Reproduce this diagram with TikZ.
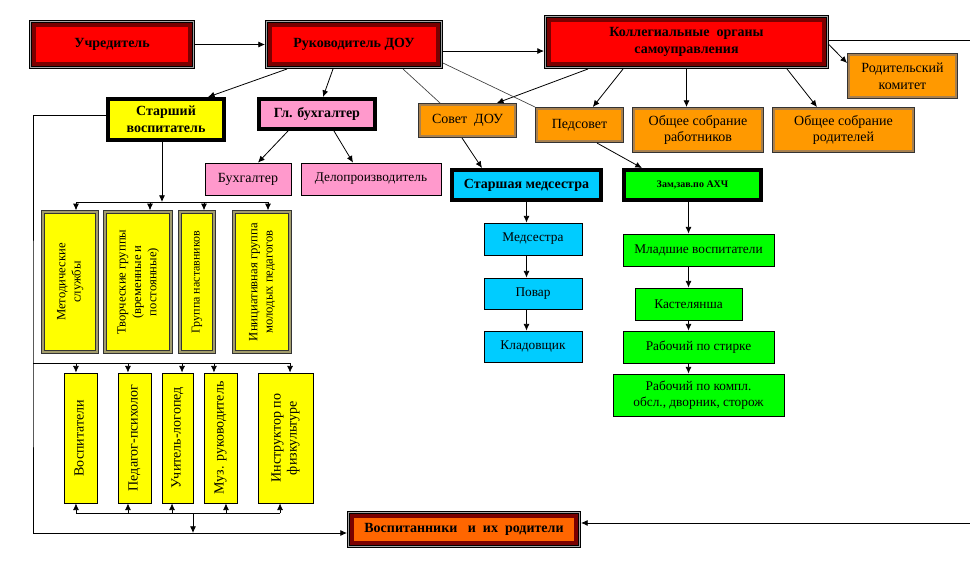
\documentclass[tikz,border=0pt]{standalone}
\usepackage{fontspec}
\setmainfont{Liberation Serif}
\usepackage{graphicx}
\usepackage{tikz}
\usetikzlibrary{arrows.meta}
\usetikzlibrary{positioning}

\definecolor{boxred}{HTML}{FF0000}
\definecolor{bandred}{HTML}{7A0000}
\definecolor{boxorange}{HTML}{FF9900}
\definecolor{bandbrown}{HTML}{A8804E}
\definecolor{boxyellow}{HTML}{FFFF00}
\definecolor{bandolive}{HTML}{A29C6C}
\definecolor{boxpink}{HTML}{FF99CC}
\definecolor{boxblue}{HTML}{00CCFF}
\definecolor{boxgreen}{HTML}{00FF00}
\definecolor{boxdeep}{HTML}{FF6600}

\newcommand{\vtext}[1]{\rotatebox{90}{\begin{tabular}{@{}c@{}}#1\end{tabular}}}

\tikzset{
  base/.style={rectangle, inner sep=2pt, align=center, font=\fontsize{10}{12}\selectfont},
  redbox/.style={base, draw=black, line width=0.5pt, double=bandred, double distance=2.5pt,
    outer sep=3.75pt, font=\bfseries\fontsize{10.5}{12.5}\selectfont},
  outframe/.style={draw=black, line width=0.4pt, double=black!35, double distance=1.2pt},
  orangebox/.style={base, fill=boxorange, draw=black!80, line width=0.5pt, double=bandbrown,
    double distance=1.5pt, outer sep=1.25pt, font=\fontsize{10.5}{12.5}\selectfont},
  thickbox/.style={base, draw=black, line width=3pt, outer sep=1.5pt,
    font=\bfseries\fontsize{10.5}{12.5}\selectfont},
  plainbox/.style={base, draw=black, line width=0.6pt},
  vbox/.style={rectangle, inner sep=1pt, fill=boxyellow, draw=black!80, line width=0.5pt,
    double=bandolive, double distance=1.5pt, outer sep=1.25pt, minimum height=105pt,
    font=\fontsize{9.5}{11.5}\selectfont},
  lowbox/.style={rectangle, inner sep=1pt, fill=boxyellow, draw=black, line width=0.6pt,
    minimum height=97.5pt, font=\fontsize{10.5}{12}\selectfont},
  arr/.style={-{Latex[length=5pt,width=4.5pt]}, line width=0.6pt},
  conn/.style={line width=0.6pt},
  thin/.style={line width=0.5pt, black!75}
}

\begin{document}
\begin{tikzpicture}[x=0.75pt,y=-0.75pt]
\useasboundingbox (0,0) rectangle (970,575);

% top rank
\node[redbox, fill=boxred, minimum width=117pt, minimum height=29.25pt] (uchr) at (112,44.5) {Учредитель};
\node[redbox, fill=boxred, minimum width=126pt, minimum height=29.25pt] (ruk) at (354,44.5) {Руководитель ДОУ};
\node[redbox, fill=boxred, minimum width=206.25pt, minimum height=33pt] (koll) at (686.5,42) {Коллегиальные\ \ органы\\самоуправления};
\node[redbox, fill=boxdeep, minimum width=168pt, minimum height=20.25pt] (vosp) at (464,529.5) {Воспитанники\ \ \ и\ \ их\ \ родители};
\foreach \n in {uchr,ruk,koll,vosp}
  \draw[outframe] ([shift={(1pt,-1pt)}]\n.north west) rectangle ([shift={(-1pt,1pt)}]\n.south east);

% collegial bodies
\node[orangebox, minimum width=80.75pt, minimum height=32pt] (rodkom) at (902.5,76) {Родительский\\комитет};
\node[orangebox, minimum width=71.75pt, minimum height=23.75pt] (sovet) at (467.5,120.5) {Совет\ \ ДОУ};
\node[orangebox, minimum width=64.25pt, minimum height=24.5pt] (pedsovet) at (579.5,125) {Педсовет};
\node[orangebox, minimum width=96.5pt, minimum height=32pt] (obrab) at (698,130) {Общее собрание\\работников};
\node[orangebox, minimum width=104.75pt, minimum height=32pt] (obrod) at (843.5,130) {Общее собрание\\родителей};

% heads
\node[thickbox, fill=boxyellow, minimum width=87pt, minimum height=30.75pt] (stvosp) at (166,119.5) {Старший\\воспитатель};
\node[thickbox, fill=boxpink, minimum width=87pt, minimum height=22.5pt] (glbuh) at (317,114) {Гл. бухгалтер};
\node[thickbox, fill=boxblue, minimum width=111.75pt, minimum height=22.5pt] (stmed) at (526.5,185) {Старшая\ медсестра};
\node[thickbox, fill=boxgreen, minimum width=102.75pt, minimum height=22.5pt, font=\bfseries\fontsize{7.5}{9}\selectfont] (zamzav) at (692.5,185) {Зам,зав.по АХЧ};

\node[plainbox, fill=boxpink, minimum width=64.5pt, minimum height=24pt, font=\fontsize{10.5}{12}\selectfont] (buh) at (248,179) {Бухгалтер};
\node[plainbox, fill=boxpink, minimum width=105pt, minimum height=24pt] (delo) at (371,179) {Делопроизводитель};

\node[plainbox, fill=boxblue, minimum width=73.5pt, minimum height=24pt] (medsestra) at (533,239) {Медсестра};
\node[plainbox, fill=boxblue, minimum width=73.5pt, minimum height=23.25pt] (povar) at (533,293.5) {Повар};
\node[plainbox, fill=boxblue, minimum width=73.5pt, minimum height=23.25pt] (klad) at (533,346.5) {Кладовщик};

\node[plainbox, fill=boxgreen, minimum width=113.25pt, minimum height=24pt] (mladsh) at (698.5,250) {Младшие воспитатели};
\node[plainbox, fill=boxgreen, minimum width=80.25pt, minimum height=24pt] (kastel) at (688.5,304) {Кастелянша};
\node[plainbox, fill=boxgreen, minimum width=113.25pt, minimum height=24pt] (stirka) at (698.5,347) {Рабочий по стирке};
\node[plainbox, fill=boxgreen, minimum width=128.25pt, minimum height=31.5pt] (kompl) at (698.5,395) {Рабочий по компл.\\обсл., дворник, сторож};

% methodical groups
\node[vbox, minimum width=40.5pt] (metod) at (70,282) {\vtext{Методические\\службы}};
\node[vbox, minimum width=49.5pt] (tvorch) at (138,282) {\vtext{Творческие группы\\(временные и\\постоянные)}};
\node[vbox, minimum width=25.5pt, font=\fontsize{9}{10}\selectfont] (nastav) at (197,282) {\vtext{Группа наставников}};
\node[vbox, minimum width=42pt] (inic) at (262,282) {\vtext{Инициативная группа\\молодых педагогов}};

% teachers
\node[lowbox, minimum width=24.75pt] (vospit) at (80.5,438) {\vtext{Воспитатели}};
\node[lowbox, minimum width=24.75pt] (psych) at (134.5,438) {\vtext{Педагог-психолог}};
\node[lowbox, minimum width=23.25pt] (logoped) at (177.5,438) {\vtext{Учитель-логопед}};
\node[lowbox, minimum width=24.75pt] (muz) at (220.5,438) {\vtext{Муз. руководитель}};
\node[lowbox, minimum width=41.25pt] (instr) at (285.5,438) {\vtext{Инструктор по\\физкультуре}};

\coordinate (redge) at (971,300);
\coordinate (busA) at (162,202);
\coordinate (lf) at (33,363);
\coordinate (lfb) at (33,533);
\coordinate (busC) at (193,513);

% connectors
\draw[arr] (uchr) -- (ruk);
\draw[arr] ([yshift=-4.9pt]ruk.east) -- ([yshift=-4.9pt]ruk.east -| koll.west);
\draw[arr] ([yshift=1.5pt]koll.east) -| (redge) |- ([yshift=4.9pt]vosp.east);
\draw[arr] ([yshift=-2pt]koll.east) -- ([yshift=9.75pt]rodkom.west);
\draw[arr] ([xshift=-73.9pt]koll.south) -- ([xshift=22pt]sovet.north);
\draw[arr] ([xshift=-47.6pt]koll.south) -- ([xshift=10pt]pedsovet.north);
\draw[arr] (koll.south) -- (koll.south |- obrab.north);
\draw[arr] ([xshift=75.4pt]koll.south) -- ([xshift=-19.9pt]obrod.north);

\draw[arr] ([xshift=-50.25pt]ruk.south) -- ([xshift=31.5pt]stvosp.north);
\draw[arr] ([xshift=-15.75pt]ruk.south) -- ([xshift=4.5pt]glbuh.north);
\draw[thin] ([xshift=36.75pt]ruk.south) -- ([xshift=-20.6pt]sovet.north);
\draw[thin] ([yshift=-13.9pt]ruk.east) -- (pedsovet.north west);
\draw[arr] ([xshift=-21.75pt]glbuh.south) -- ([xshift=7.5pt]buh.north);
\draw[arr] ([xshift=12.75pt]glbuh.south) -- ([xshift=-13.5pt]delo.north);
\draw[arr] ([xshift=-4.1pt]sovet.south) -- ([xshift=-33.4pt]stmed.north);
\draw[arr] ([xshift=13.1pt]pedsovet.south) -- ([xshift=-37.9pt]zamzav.north);

\draw[arr] (stmed.south) -- (stmed.south |- medsestra.north);
\draw[arr] (medsestra.south -| stmed.south) -- (povar.north -| stmed.south);
\draw[arr] (povar.south -| stmed.south) -- (klad.north -| stmed.south);

\draw[arr] (zamzav.south -| kastel.north) -- (mladsh.north -| kastel.north);
\draw[arr] (mladsh.south -| kastel.north) -- (kastel.north);
\draw[arr] (kastel.south) -- (stirka.north -| kastel.south);
\draw[arr] (stirka.south -| kastel.south) -- (kompl.north -| kastel.south);

\draw[arr] (stvosp.south -| busA) -- (busA);
\draw[conn] ([xshift=4.5pt]metod.north |- busA) -- ([xshift=4.5pt]inic.north |- busA);
\foreach \n/\d in {metod/4.5pt, tvorch/9pt, nastav/5.25pt, inic/4.5pt}
  \draw[arr] ([xshift=\d]\n.north |- busA) -- ([xshift=\d]\n.north);

\draw[arr] ([yshift=3.4pt]stvosp.west) -| (lf) -- (lfb) -- (lfb -| vosp.west);
\draw[conn] (lf) -- ([xshift=3.4pt]instr.north |- lf);
\foreach \n/\d in {vospit/-3.4pt, psych/-4.9pt, logoped/3.4pt, muz/-4.9pt, instr/3.4pt}
  \draw[arr] ([xshift=\d]\n.north |- lf) -- ([xshift=\d]\n.north);

\draw[conn] ([xshift=-3.4pt]vospit.south |- busC) -- ([xshift=-4.1pt]instr.south |- busC);
\foreach \n/\d in {vospit/-3.4pt, psych/-4.9pt, logoped/-4.1pt, muz/4.1pt, instr/-4.1pt}
  \draw[arr] ([xshift=\d]\n.south |- busC) -- ([xshift=\d]\n.south);
\draw[arr] (busC) -- (busC |- lfb);
\end{tikzpicture}
\end{document}
